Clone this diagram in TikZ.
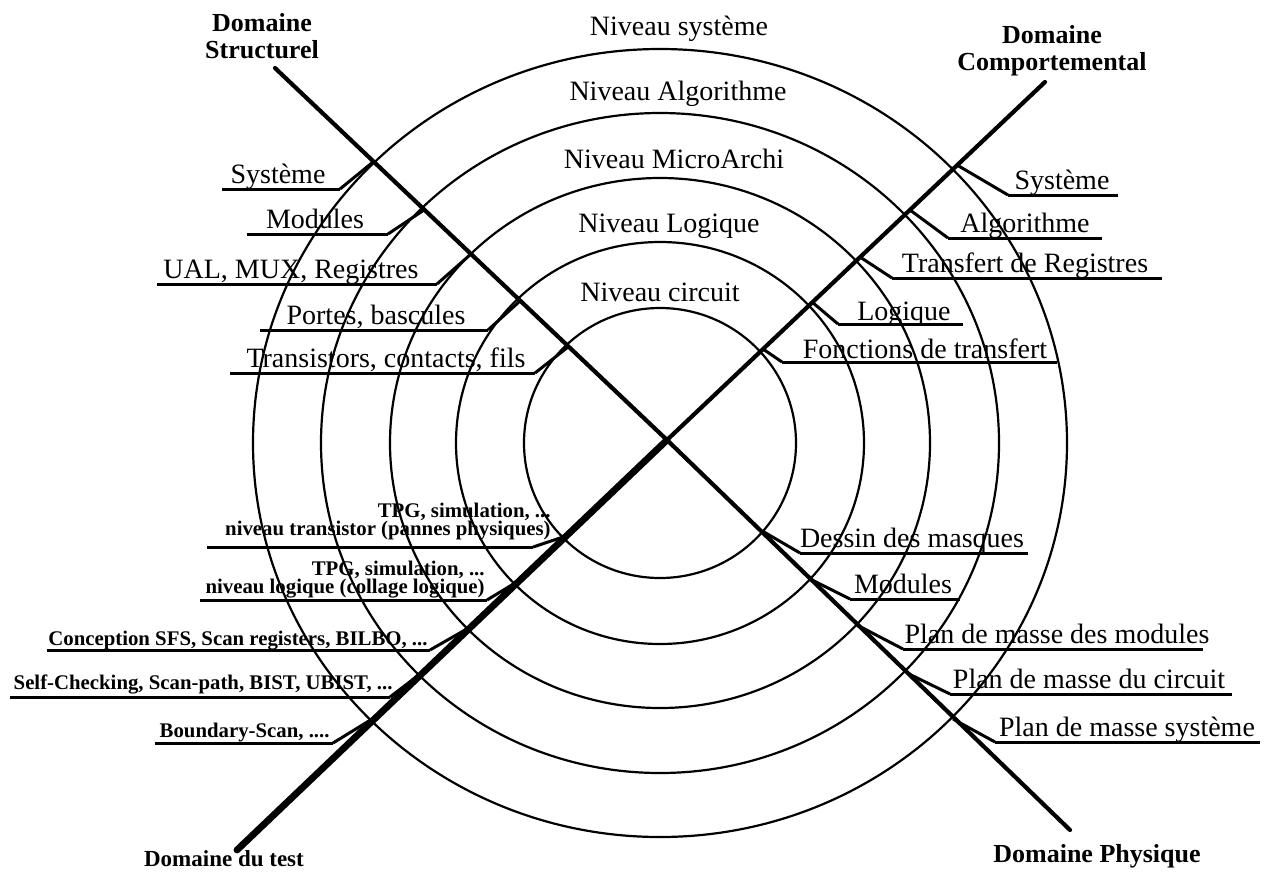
\documentclass[tikz,border=0pt]{standalone}
\usepackage{fontspec}
\setmainfont{Liberation Serif}
\begin{document}
\begin{tikzpicture}[x=0.5pt,y=-0.5pt,
  ring/.style={line width=1.1pt},
  domline/.style={line width=2.1pt,line cap=round},
  testline/.style={line width=3.4pt,line cap=round},
  uline/.style={line width=1.5pt},
  lead/.style={line width=1.5pt},
  lbl/.style={font=\fontsize{14}{16}\selectfont,inner sep=0pt,anchor=base},
  lvl/.style={font=\fontsize{14}{16}\selectfont,inner sep=0pt,anchor=base},
  dom/.style={font=\bfseries\fontsize{13}{13.5}\selectfont,inner sep=0pt,align=center},
  tst/.style={font=\bfseries\fontsize{10.4}{9}\selectfont,inner sep=0pt,anchor=base east},
  tst2/.style={font=\bfseries\fontsize{10.4}{9}\selectfont,inner sep=0pt,align=right,anchor=base east}]
\useasboundingbox (0,0) rectangle (1285,874);

% rings
\coordinate (C) at (660,443);
\draw[ring] (C) ellipse [x radius=68pt, y radius=67.5pt];
\draw[ring] (C) ellipse [x radius=102pt, y radius=100.5pt];
\draw[ring] (C) ellipse [x radius=135pt, y radius=132.5pt];
\draw[ring] (C) ellipse [x radius=169.5pt, y radius=165pt];
\draw[ring] (C) ellipse [x radius=203.5pt, y radius=197pt];

% level labels
\node[lvl] (nsys) at (679,35) {Niveau système};
\node[lvl] (nalg) at (678,100) {Niveau Algorithme};
\node[lvl] (nmic) at (674,168) {Niveau MicroArchi};
\node[lvl] (nlog) at (669,232) {Niveau Logique};
\node[lvl] (ncir) at (660,301) {Niveau circuit};

% domain axes
\coordinate (X) at (667,440);
\coordinate (S0) at (275,68);
\coordinate (P0) at (1070,830);
\coordinate (B0) at (1045,82);
\coordinate (T0) at (237,850);
\draw[domline] (S0) -- (X) -- (P0);
\draw[domline] (B0) -- (X);
\draw[testline] (X) -- (T0);

% domain titles (base = baseline of last line)
\node[dom,anchor=base] (dstruct) at (262,58) {Domaine\\Structurel};
\node[dom,anchor=base] (dcomp) at (1052,70) {Domaine\\Comportemental};
\node[dom,anchor=base,font=\bfseries\fontsize{11.5}{12}\selectfont] (dtest) at (224,866) {Domaine du test};
\node[dom,anchor=base] (dphys) at (1097,862) {Domaine Physique};

% ---- Structural labels (left, top)
\coordinate (s1i) at (373,162); \coordinate (s1a) at (340,189); \coordinate (s1b) at (222,189);
\coordinate (s2i) at (424,210); \coordinate (s2a) at (388,234); \coordinate (s2b) at (247,234);
\coordinate (s3i) at (471,254); \coordinate (s3a) at (437,284); \coordinate (s3b) at (157,284);
\coordinate (s4i) at (520,301); \coordinate (s4a) at (488,330); \coordinate (s4b) at (260,330);
\coordinate (s5i) at (568,347); \coordinate (s5a) at (535,373); \coordinate (s5b) at (230,373);
\draw[lead] (s1i) -- (s1a); \draw[uline] (s1a) -- (s1b);
\draw[lead] (s2i) -- (s2a); \draw[uline] (s2a) -- (s2b);
\draw[lead] (s3i) -- (s3a); \draw[uline] (s3a) -- (s3b);
\draw[lead] (s4i) -- (s4a); \draw[uline] (s4a) -- (s4b);
\draw[lead] (s5i) -- (s5a); \draw[uline] (s5a) -- (s5b);
\node[lbl] (ls1) at (278,183) {Système};
\node[lbl] (ls2) at (315,228) {Modules};
\node[lbl] (ls3) at (291,278) {UAL, MUX, Registres};
\node[lbl] (ls4) at (376,324) {Portes, bascules};
\node[lbl] (ls5) at (386,367) {Transistors, contacts, fils};

% ---- Behavioural labels (right, top)
\coordinate (b1i) at (957,165); \coordinate (b1a) at (1008,195); \coordinate (b1b) at (1118,195);
\coordinate (b2i) at (910,210); \coordinate (b2a) at (948,238); \coordinate (b2b) at (1102,238);
\coordinate (b3i) at (860,257); \coordinate (b3a) at (892,278); \coordinate (b3b) at (1162,278);
\coordinate (b4i) at (812,302); \coordinate (b4a) at (838,324); \coordinate (b4b) at (963,324);
\coordinate (b5i) at (763,349); \coordinate (b5a) at (782,362); \coordinate (b5b) at (1057,362);
\draw[lead] (b1i) -- (b1a); \draw[uline] (b1a) -- (b1b);
\draw[lead] (b2i) -- (b2a); \draw[uline] (b2a) -- (b2b);
\draw[lead] (b3i) -- (b3a); \draw[uline] (b3a) -- (b3b);
\draw[lead] (b4i) -- (b4a); \draw[uline] (b4a) -- (b4b);
\draw[lead] (b5i) -- (b5a); \draw[uline] (b5a) -- (b5b);
\node[lbl] (lb1) at (1062,189) {Système};
\node[lbl] (lb2) at (1025,232) {Algorithme};
\node[lbl] (lb3) at (1025,272) {Transfert de Registres};
\node[lbl] (lb4) at (904,320) {Logique};
\node[lbl] (lb5) at (925,358) {Fonctions de transfert};

% ---- Physical labels (right, bottom)
\coordinate (p1i) at (764,532); \coordinate (p1a) at (800,553); \coordinate (p1b) at (1028,553);
\coordinate (p2i) at (810,579); \coordinate (p2a) at (850,599); \coordinate (p2b) at (960,599);
\coordinate (p3i) at (857,625); \coordinate (p3a) at (903,649); \coordinate (p3b) at (1203,649);
\coordinate (p4i) at (907,673); \coordinate (p4a) at (950,694); \coordinate (p4b) at (1232,694);
\coordinate (p5i) at (953,719); \coordinate (p5a) at (995,742); \coordinate (p5b) at (1260,742);
\draw[lead] (p1i) -- (p1a); \draw[uline] (p1a) -- (p1b);
\draw[lead] (p2i) -- (p2a); \draw[uline] (p2a) -- (p2b);
\draw[lead] (p3i) -- (p3a); \draw[uline] (p3a) -- (p3b);
\draw[lead] (p4i) -- (p4a); \draw[uline] (p4a) -- (p4b);
\draw[lead] (p5i) -- (p5a); \draw[uline] (p5a) -- (p5b);
\node[lbl] (lp1) at (912,547) {Dessin des masques};
\node[lbl] (lp2) at (903,593) {Modules};
\node[lbl] (lp3) at (1057,643) {Plan de masse des modules};
\node[lbl] (lp4) at (1089,688) {Plan de masse du circuit};
\node[lbl] (lp5) at (1127,736) {Plan de masse système};

% ---- Test labels (left, bottom)
\coordinate (t1i) at (566,536); \coordinate (t1a) at (533,547); \coordinate (t1b) at (207,547);
\coordinate (t2i) at (520,580); \coordinate (t2a) at (487,600); \coordinate (t2b) at (200,600);
\coordinate (t3i) at (472,626); \coordinate (t3a) at (430,650); \coordinate (t3b) at (47,650);
\coordinate (t4i) at (424,671); \coordinate (t4a) at (390,697); \coordinate (t4b) at (10,697);
\coordinate (t5i) at (377,716); \coordinate (t5a) at (333,743); \coordinate (t5b) at (155,743);
\draw[lead] (t1i) -- (t1a); \draw[uline] (t1a) -- (t1b);
\draw[lead] (t2i) -- (t2a); \draw[uline] (t2a) -- (t2b);
\draw[lead] (t3i) -- (t3a); \draw[uline] (t3a) -- (t3b);
\draw[lead] (t4i) -- (t4a); \draw[uline] (t4a) -- (t4b);
\draw[lead] (t5i) -- (t5a); \draw[uline] (t5a) -- (t5b);
\node[tst2] (lt1) at (551,535) {TPG, simulation, ...\\niveau transistor (pannes physiques)};
\node[tst2] (lt2) at (485,593) {TPG, simulation, ...\\niveau logique (collage logique)};
\node[tst] (lt3) at (428,645) {Conception SFS, Scan registers, BILBO, ...};
\node[tst] (lt4) at (393,689) {Self-Checking, Scan-path, BIST, UBIST, ...};
\node[tst] (lt5) at (330,737) {Boundary-Scan, ....};
\end{tikzpicture}
\end{document}
